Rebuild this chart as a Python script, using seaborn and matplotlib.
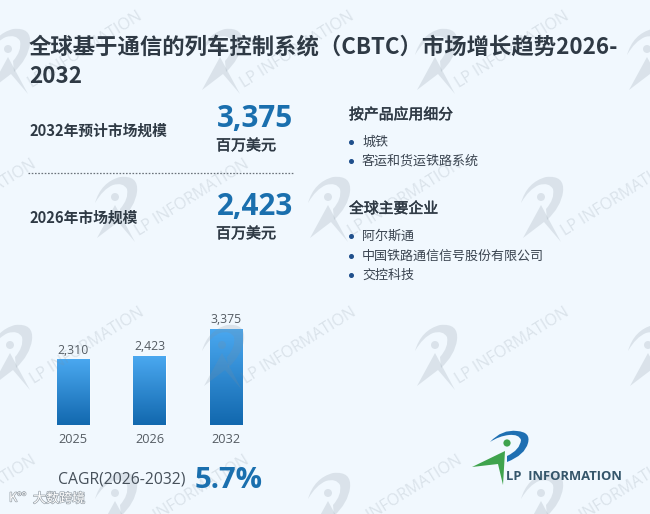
import numpy as np
import pandas as pd
import seaborn as sns
import matplotlib
matplotlib.use("Agg")
import matplotlib.pyplot as plt
from matplotlib.patches import Polygon, Circle, PathPatch
from matplotlib.path import Path
from matplotlib.colors import LinearSegmentedColormap
import matplotlib.patheffects as pe

years = ["2025", "2026", "2032"]
market_size = [2310, 2423, 3375]
title = "全球基于通信的列车控制系统（CBTC）市场增长趋势2026-\n2032"
segment_heading = "按产品应用细分"
segments = ["城铁", "客运和货运铁路系统"]
company_heading = "全球主要企业"
companies = ["阿尔斯通", "中国铁路通信信号股份有限公司", "交控科技"]

BG = "#f1f8fe"
DARK = "#2f3a45"
BLUE = "#1a6fae"

sns.set_theme(style="white")
plt.rcParams["font.family"] = ["Noto Sans CJK SC", "DejaVu Sans"]

fig = plt.figure(figsize=(6.5, 5.14), dpi=100, facecolor=BG)

# pixel-space canvas for text, above the watermark
canvas = fig.add_axes([0, 0, 1, 1], zorder=4)
canvas.set_xlim(0, 650)
canvas.set_ylim(514, 0)
canvas.axis("off")

# bar chart
W, H = 650, 514
ax = fig.add_axes([34.75 / W, (514 - 425) / H, 229.5 / W, 105.6 / H], zorder=2)
ax.patch.set_alpha(0)
df = pd.DataFrame({"year": years, "size": market_size})
sns.barplot(data=df, x="year", y="size", ax=ax, width=0.42, color="#2a86d0")
ax.set_ylim(0, 3375 * 1.1)
xl = ax.get_xlim()
cmap = LinearSegmentedColormap.from_list("bar", ["#1268ae", "#4aa8f0"])
grad = np.linspace(1, 0, 128).reshape(-1, 1)
for p in ax.patches:
    x0, y0, w, h = p.get_x(), p.get_y(), p.get_width(), p.get_height()
    im = ax.imshow(grad, extent=[x0, x0 + w, y0, y0 + h], cmap=cmap, aspect="auto",
                   vmin=0, vmax=1, zorder=3)
    im.set_clip_path(p)
ax.set_xlim(xl)
ax.set_ylim(0, 3375 * 1.1)
for c in ax.containers:
    ax.bar_label(c, labels=[f"{v:,}" for v in market_size], padding=2, fontsize=8.8,
                 color="#555c63", family="Open Sans")
ax.set_xlabel("")
ax.set_ylabel("")
ax.set_yticks([])
ax.tick_params(axis="x", length=0, pad=6, labelsize=9.2, labelcolor="#555c63")
for lab in ax.get_xticklabels():
    lab.set_family("Open Sans")
sns.despine(ax=ax, left=True, bottom=True)

thick = [pe.withStroke(linewidth=0.35, foreground=DARK)]

# text blocks
canvas.text(29, 62, title, fontsize=16.1, fontweight="bold", color=DARK, va="center",
            linespacing=1.34)
canvas.text(29, 131, "2032年预计市场规模", fontsize=10.6, fontweight="bold", color=DARK, va="center")
canvas.text(29, 218, "2026年市场规模", fontsize=10.6, fontweight="bold", color=DARK, va="center")
canvas.text(217, 119, "3,375", fontsize=21.3, fontweight="bold", color=BLUE, va="center", family="Open Sans")
canvas.text(217, 207, "2,423", fontsize=21.3, fontweight="bold", color=BLUE, va="center", family="Open Sans")
canvas.text(216, 146, "百万美元", fontsize=10.8, color=DARK, va="center", path_effects=thick)
canvas.text(216, 234, "百万美元", fontsize=10.8, color=DARK, va="center", path_effects=thick)
canvas.plot([28, 293], [173, 173], color="#6a727a", lw=0.9, ls=(0, (1.3, 1.3)))

canvas.text(349, 115, segment_heading, fontsize=10.7, color=DARK, va="center", path_effects=thick)
canvas.text(349, 209, company_heading, fontsize=10.7, color=DARK, va="center", path_effects=thick)
for y, s in zip([142, 161], segments):
    canvas.plot([351], [y], "o", ms=2.6, color="#1f4f8c")
    canvas.text(362, y, s, fontsize=9.4, color="#3a4450", va="center")
for y, s in zip([236, 256, 275], companies):
    canvas.plot([351], [y], "o", ms=2.6, color="#1f4f8c")
    canvas.text(362, y, s, fontsize=9.4, color="#3a4450", va="center")

canvas.text(58, 480, "CAGR(2026-2032)", fontsize=11.3, color="#46505a", va="center", family="Open Sans")
canvas.text(195, 480, "5.7%", fontsize=21.2, fontweight="bold", color=BLUE, va="center", family="Open Sans")


def swoosh_path(ox, oy, pts):
    verts = [(ox + a, oy + b) for a, b in pts]
    codes = [Path.MOVETO, Path.CURVE3, Path.CURVE3, Path.CURVE3, Path.CURVE3, Path.CURVE3, Path.CURVE3,
             Path.LINETO, Path.CURVE3, Path.CURVE3, Path.CURVE3, Path.CURVE3, Path.CURVE3, Path.CURVE3]
    return Path(verts, codes)


def logo(ax, ox, oy, swoosh, arrow, dot_r, c1, c2, c3, alpha=1.0):
    ax.add_patch(PathPatch(swoosh_path(ox, oy, swoosh), fc=c1, ec="none", alpha=alpha))
    ax.add_patch(Polygon([(ox + a, oy + b) for a, b in arrow], closed=True, fc=c2, ec="none", alpha=alpha))
    ax.add_patch(Circle((ox, oy), dot_r, fc=c3, ec="none", alpha=alpha))


# watermark layer: over the bars, under the text
wm = fig.add_axes([0, 0, 1, 1], zorder=3)
wm.set_xlim(0, 650)
wm.set_ylim(514, 0)
wm.axis("off")
WM = "#7f8e9c"
wm_swoosh = [(-20, 6), (-14, -15), (5, -20), (24, -22), (22, -5), (20, 10), (6, 23),
             (5, 12), (14, 2), (12, -8), (8, -15), (-2, -12), (-12, -8), (-20, 6)]
wm_arrow = [(-18, 41), (0, 8), (20, 45), (3, 25)]
rows = [(49, [8, 220, 435, 647]), (197, [-98, 115, 328, 541]), (345, [10, 222, 435, 648]),
        (493, [-98, 115, 328, 541])]
for oy, xs in rows:
    for ox in xs:
        logo(wm, ox, oy, wm_swoosh, wm_arrow, 4, WM, WM, WM, alpha=0.2)
        wm.text(ox + 22, oy + 36, "LP INFORMATION", fontsize=11.5, color=WM, alpha=0.2,
                rotation=32, rotation_mode="anchor", ha="left", va="center", family="Open Sans",
                clip_on=True)

# company logo
main_swoosh = [(-17, -1), (-5, -14), (10, -12), (24, -11), (21, 0), (18, 12), (0, 19),
               (0, 13), (13, 7), (14, -3), (12, -9), (2, -8), (-8, -7), (-17, -1)]
main_arrow = [(-35, 24), (-2, 8), (-4, 42), (-9, 21)]
logo(canvas, 507, 443, main_swoosh, main_arrow, 3.6, "#1f6fb2", "#3fa34d", "#3fa34d")
canvas.text(506, 476, "LP  INFORMATION", fontsize=9.4, fontweight="bold", color="#35566b", va="center",
            family="Open Sans")

# source stamp bottom-left
stroke = [pe.withStroke(linewidth=1.0, foreground="#9aa3ab")]
canvas.text(9, 498, "K°°", fontsize=9, color="white", va="center", path_effects=stroke)
canvas.text(33, 499, "大数跨境", fontsize=9.4, color="white", va="center", path_effects=stroke)

fig.savefig("out.png", dpi=100, facecolor=BG)
